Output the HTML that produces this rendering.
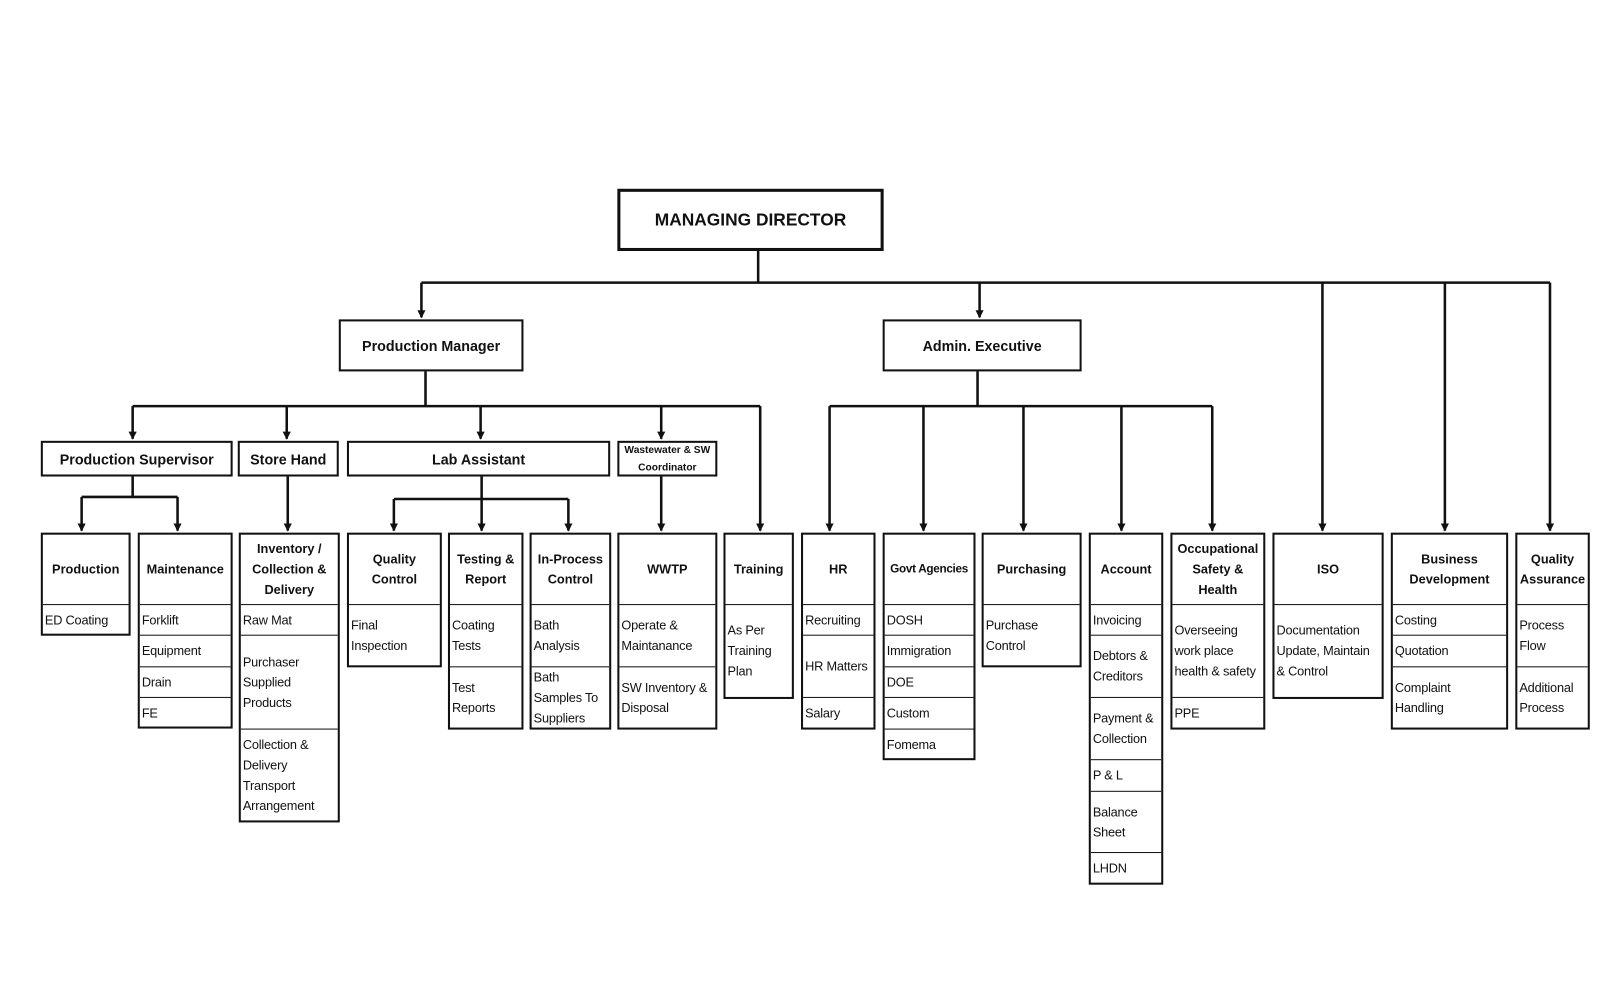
<!DOCTYPE html>
<html><head><meta charset="utf-8"><style>
html,body{margin:0;padding:0;background:#fff;width:1600px;height:1000px;overflow:hidden}
#w{position:absolute;left:0;top:0;width:1568px;height:980px;transform:scale(1.0204);transform-origin:0 0;font-family:"Liberation Sans",sans-serif;color:#111}
.b{position:absolute;border:2.5px solid #111;box-sizing:border-box;background:#fff;font-size:12.5px;line-height:20px}
.t{display:flex;align-items:center;justify-content:center;text-align:center;font-weight:bold;font-size:13px;height:100%;line-height:18px}
.h{display:flex;align-items:center;justify-content:center;text-align:center;font-weight:bold;font-size:12.5px;height:68px;box-sizing:border-box}
.r{border-top:1.5px solid #111;display:flex;align-items:center;padding-left:2px;box-sizing:border-box;letter-spacing:-0.2px}
svg{position:absolute;left:0;top:0}
</style></head><body><div id="w">
<svg width="1568" height="980">
<defs><marker id="a" markerWidth="8" markerHeight="8" refX="7" refY="4" orient="auto" markerUnits="userSpaceOnUse"><path d="M0,0 L8,4 L0,8 z" fill="#111"/></marker></defs>
<g stroke="#111" stroke-width="2.5" fill="none">
<path d="M743,246V277M413,277H1519"/>
<path d="M413,277V311" marker-end="url(#a)"/>
<path d="M960,277V311" marker-end="url(#a)"/>
<path d="M1296,277V520" marker-end="url(#a)"/>
<path d="M1416,277V520" marker-end="url(#a)"/>
<path d="M1519,277V520" marker-end="url(#a)"/>
<path d="M417,364V398M130,398H745"/>
<path d="M130,398V430" marker-end="url(#a)"/>
<path d="M281,398V430" marker-end="url(#a)"/>
<path d="M471,398V430" marker-end="url(#a)"/>
<path d="M648,398V430" marker-end="url(#a)"/>
<path d="M745,398V520" marker-end="url(#a)"/>
<path d="M130,467V487M80,487H174"/>
<path d="M80,487V520" marker-end="url(#a)"/>
<path d="M174,487V520" marker-end="url(#a)"/>
<path d="M282,467V520" marker-end="url(#a)"/>
<path d="M472,467V489M386,489H557"/>
<path d="M386,489V520" marker-end="url(#a)"/>
<path d="M472,489V520" marker-end="url(#a)"/>
<path d="M557,489V520" marker-end="url(#a)"/>
<path d="M648,467V520" marker-end="url(#a)"/>
<path d="M958,364V398M813,398H1188"/>
<path d="M813,398V520" marker-end="url(#a)"/>
<path d="M905,398V520" marker-end="url(#a)"/>
<path d="M1003,398V520" marker-end="url(#a)"/>
<path d="M1099,398V520" marker-end="url(#a)"/>
<path d="M1188,398V520" marker-end="url(#a)"/>
</g></svg>

<div class="b" style="left:605px;top:185px;width:261px;height:61px;border-width:3px"><div class="t" style="font-size:17px">MANAGING DIRECTOR</div></div>
<div class="b" style="left:332px;top:313px;width:181px;height:51px"><div class="t" style="font-size:14px">Production Manager</div></div>
<div class="b" style="left:865px;top:313px;width:195px;height:51px"><div class="t" style="font-size:14px">Admin. Executive</div></div>

<div class="b" style="left:40px;top:432px;width:188px;height:35px"><div class="t" style="font-size:14px">Production Supervisor</div></div>
<div class="b" style="left:233px;top:432px;width:99px;height:35px"><div class="t" style="font-size:14px">Store Hand</div></div>
<div class="b" style="left:340px;top:432px;width:258px;height:35px"><div class="t" style="font-size:14px">Lab Assistant</div></div>
<div class="b" style="left:605px;top:432px;width:98px;height:35px"><div class="t" style="font-size:10px;line-height:17px">Wastewater &amp; SW<br>Coordinator</div></div>

<div class="b" style="left:40px;top:522px;width:88px;height:101px"><div class="h">Production</div><div class="r" style="height:30px">ED Coating</div></div>
<div class="b" style="left:135px;top:522px;width:93px;height:192px"><div class="h">Maintenance</div><div class="r" style="height:30px">Forklift</div><div class="r" style="height:31px">Equipment</div><div class="r" style="height:30px">Drain</div><div class="r" style="height:30px">FE</div></div>
<div class="b" style="left:234px;top:522px;width:99px;height:284px"><div class="h">Inventory /<br>Collection &amp;<br>Delivery</div><div class="r" style="height:30px">Raw Mat</div><div class="r" style="height:92px">Purchaser<br>Supplied<br>Products</div><div class="r" style="height:90px">Collection &amp;<br>Delivery<br>Transport<br>Arrangement</div></div>
<div class="b" style="left:340px;top:522px;width:93px;height:132px"><div class="h">Quality<br>Control</div><div class="r" style="height:60px">Final<br>Inspection</div></div>
<div class="b" style="left:439px;top:522px;width:74px;height:193px"><div class="h">Testing &amp;<br>Report</div><div class="r" style="height:61px">Coating<br>Tests</div><div class="r" style="height:61px">Test<br>Reports</div></div>
<div class="b" style="left:519px;top:522px;width:80px;height:193px"><div class="h">In-Process<br>Control</div><div class="r" style="height:61px">Bath<br>Analysis</div><div class="r" style="height:61px">Bath<br>Samples To<br>Suppliers</div></div>
<div class="b" style="left:605px;top:522px;width:98px;height:193px"><div class="h">WWTP</div><div class="r" style="height:61px">Operate &amp;<br>Maintanance</div><div class="r" style="height:61px">SW Inventory &amp;<br>Disposal</div></div>
<div class="b" style="left:709px;top:522px;width:69px;height:163px"><div class="h">Training</div><div class="r" style="height:91px">As Per<br>Training<br>Plan</div></div>
<div class="b" style="left:785px;top:522px;width:73px;height:193px"><div class="h">HR</div><div class="r" style="height:30px">Recruiting</div><div class="r" style="height:61px">HR Matters</div><div class="r" style="height:31px">Salary</div></div>
<div class="b" style="left:865px;top:522px;width:91px;height:223px"><div class="h" style="white-space:nowrap;font-size:11.5px;letter-spacing:-0.3px">Govt Agencies</div><div class="r" style="height:30px">DOSH</div><div class="r" style="height:31px">Immigration</div><div class="r" style="height:30px">DOE</div><div class="r" style="height:31px">Custom</div><div class="r" style="height:30px">Fomema</div></div>
<div class="b" style="left:962px;top:522px;width:98px;height:132px"><div class="h">Purchasing</div><div class="r" style="height:61px">Purchase<br>Control</div></div>
<div class="b" style="left:1067px;top:522px;width:73px;height:345px"><div class="h">Account</div><div class="r" style="height:30px">Invoicing</div><div class="r" style="height:61px">Debtors &amp;<br>Creditors</div><div class="r" style="height:61px">Payment &amp;<br>Collection</div><div class="r" style="height:31px">P &amp; L</div><div class="r" style="height:60px">Balance<br>Sheet</div><div class="r" style="height:31px">LHDN</div></div>
<div class="b" style="left:1147px;top:522px;width:93px;height:193px"><div class="h">Occupational<br>Safety &amp;<br>Health</div><div class="r" style="height:91px">Overseeing<br>work place<br>health &amp; safety</div><div class="r" style="height:31px">PPE</div></div>
<div class="b" style="left:1247px;top:522px;width:109px;height:163px"><div class="h">ISO</div><div class="r" style="height:91px">Documentation<br>Update, Maintain<br>&amp; Control</div></div>
<div class="b" style="left:1363px;top:522px;width:115px;height:193px"><div class="h">Business<br>Development</div><div class="r" style="height:30px">Costing</div><div class="r" style="height:31px">Quotation</div><div class="r" style="height:61px">Complaint<br>Handling</div></div>
<div class="b" style="left:1485px;top:522px;width:73px;height:193px"><div class="h">Quality<br>Assurance</div><div class="r" style="height:61px">Process<br>Flow</div><div class="r" style="height:61px">Additional<br>Process</div></div>
</div></body></html>
